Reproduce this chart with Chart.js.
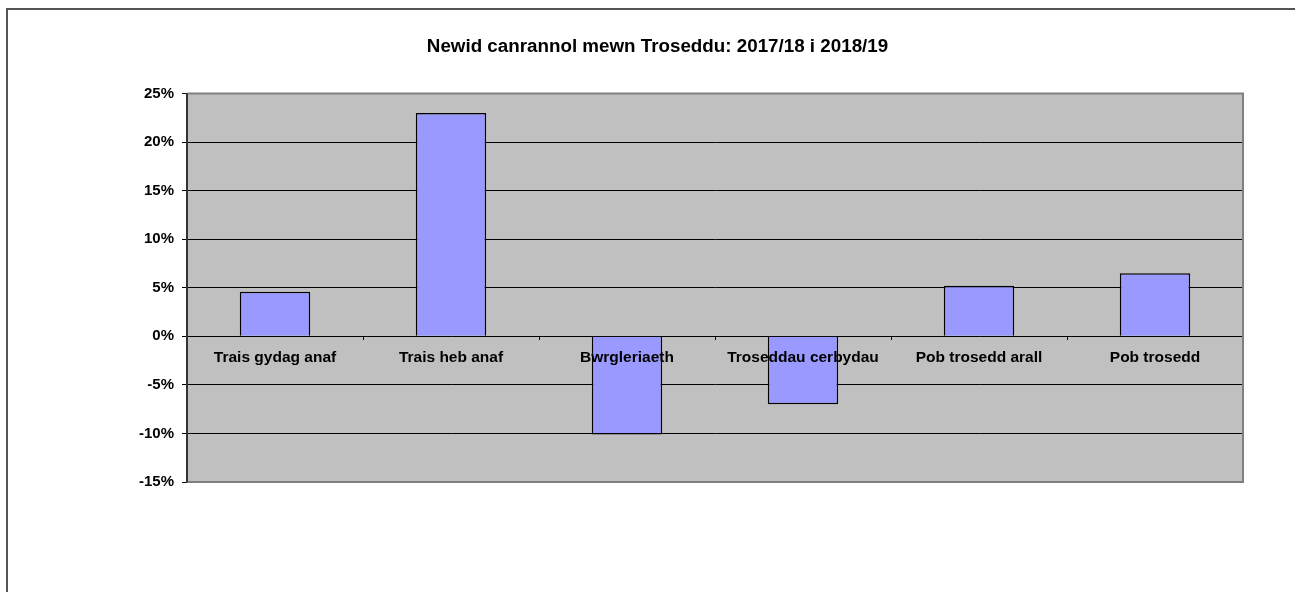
<!DOCTYPE html>
<html>
<head>
<meta charset="utf-8">
<script src="https://cdn.jsdelivr.net/npm/chart.js@4/dist/chart.umd.min.js"></script>
<style>
  body { margin: 0; background: #ffffff; }
  #graph { display: block; }
</style>
</head>
<body>
<canvas id="graph" width="1295" height="592"></canvas>
<script>
//chart data
const categories = ["Trais gydag anaf", "Trais heb anaf", "Bwrgleriaeth", "Troseddau cerbydau", "Pob trosedd arall", "Pob trosedd"];
const changes = [4.6, 23.0, -10.1, -7.0, 5.2, 6.5];
const yMin = -15;
const yMax = 25;
const yStep = 5;
const title = "Newid canrannol mewn Troseddu: 2017/18 i 2018/19";

/**********/
//grey plot area plus outer frame lines
const framePlugin =
{
    id: "frame",

    beforeDraw(chart)
    {
        let ctx = chart.ctx;
        let a = chart.chartArea;

        ctx.save();
        ctx.fillStyle = "#ffffff";
        ctx.fillRect(0, 0, chart.width, chart.height);

        //outer chart border (top and left only visible)
        ctx.strokeStyle = "#555555";
        ctx.lineWidth = 2;
        ctx.beginPath();
        ctx.moveTo(7, chart.height);
        ctx.lineTo(7, 9);
        ctx.lineTo(chart.width, 9);
        ctx.stroke();

        ctx.fillStyle = "#c0c0c0";
        ctx.fillRect(a.left, a.top, a.right - a.left, a.bottom - a.top);
        ctx.restore();
    },

    afterDraw(chart)
    {
        let ctx = chart.ctx;
        let a = chart.chartArea;

        ctx.save();
        ctx.strokeStyle = "#808080";
        ctx.lineWidth = 2;
        ctx.beginPath();
        ctx.moveTo(a.left, a.top);
        ctx.lineTo(a.right, a.top);
        ctx.lineTo(a.right, a.bottom);
        ctx.lineTo(a.left, a.bottom);
        ctx.stroke();

        ctx.strokeStyle = "#333333";
        ctx.beginPath();
        ctx.moveTo(a.left, a.top);
        ctx.lineTo(a.left, a.bottom);
        ctx.stroke();
        ctx.restore();
    }
};

/**********/
function displayGraph()
{
    const ctx = document.getElementById("graph");

    window.graph = new Chart(ctx,
    {
        type: "bar",

        data:
        {
            labels: categories,
            datasets: [
            {
                label: "Newid",
                data: changes,
                backgroundColor: "#9999ff",
                borderColor: "#000000",
                borderWidth: 1.5,
                barPercentage: 0.4,
                categoryPercentage: 1.0
            }]
        },

        options:
        {
            responsive: false,
            animation: false,
            devicePixelRatio: 1,
            layout: { padding: { left: 72, right: 52, top: 0, bottom: 110 } },

            plugins:
            {
                legend: { display: false },
                tooltip: { enabled: false },
                title:
                {
                    display: true,
                    text: title,
                    color: "#000000",
                    font: { family: "'Liberation Sans', Arial, sans-serif", size: 18.8, weight: "bold", lineHeight: 1.2 },
                    padding: { top: 36, bottom: 35 }
                }
            },

            scales:
            {
                x:
                {
                    position: { y: 0 },
                    offset: true,
                    grid:
                    {
                        offset: true,
                        drawOnChartArea: false,
                        drawTicks: true,
                        tickLength: 4,
                        tickColor: "#000000"
                    },
                    border: { display: false },
                    ticks:
                    {
                        z: 1,
                        color: "#000000",
                        padding: 8,
                        maxRotation: 0,
                        autoSkip: false,
                        font: { family: "'Liberation Sans', Arial, sans-serif", size: 15.5, weight: "bold" }
                    }
                },

                y:
                {
                    min: yMin,
                    max: yMax,
                    afterFit: function(scale) { scale.width = 115; },
                    grid:
                    {
                        color: function(c) { return (c.tick && (c.tick.value === yMin || c.tick.value === yMax)) ? "#808080" : "#000000"; },
                        tickColor: "#000000",
                        tickLength: 5,
                        lineWidth: 1
                    },
                    border: { display: true, color: "#333333", width: 2 },
                    ticks:
                    {
                        stepSize: yStep,
                        color: "#000000",
                        padding: 8,
                        font: { family: "'Liberation Sans', Arial, sans-serif", size: 15, weight: "bold" },
                        callback: function(v) { return v + "%"; }
                    }
                }
            }
        },

        plugins: [framePlugin]
    });
}

displayGraph();
</script>
</body>
</html>
